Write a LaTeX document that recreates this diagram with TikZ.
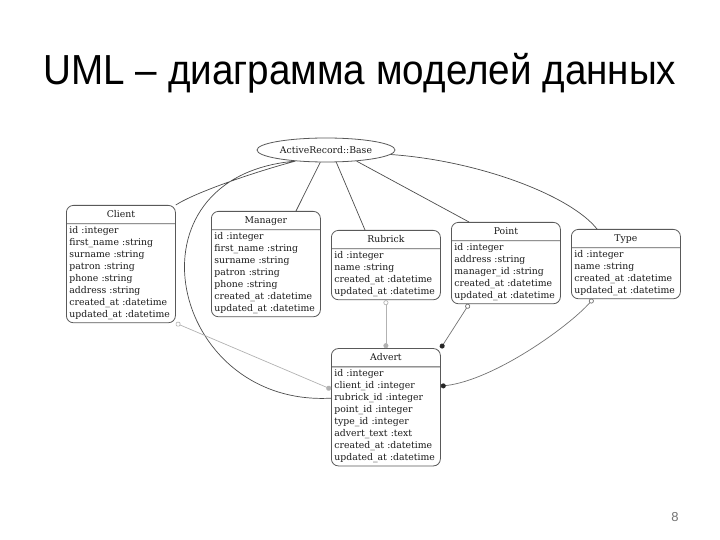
\documentclass[tikz,border=0pt]{standalone}
\usepackage{fontspec}
\setmainfont{Liberation Sans}
\newfontfamily\titlefont[FakeStretch=0.92]{Liberation Sans}
\newfontfamily\erdfont{DejaVu Serif}
\usetikzlibrary{positioning,arrows.meta,shapes.geometric,shapes.multipart}
\tikzset{
  model/.style={draw=black!65, fill=white, line width=0.8pt, rounded corners=7pt,
    rectangle split, rectangle split parts=2, anchor=north west,
    text width=103pt, inner xsep=3pt, inner ysep=2.5pt, align=left,
    font=\erdfont\fontsize{9.3}{12}\selectfont, text=black!90},
  baseclass/.style={draw=black!65, ellipse, line width=0.8pt,
    minimum width=138pt, minimum height=24pt, inner sep=0pt,
    font=\erdfont\fontsize{9.3}{10}\selectfont, text=black!90},
  link/.style={draw=black!70, line width=0.7pt},
  fk/.style={line width=0.7pt, {Circle[open,length=5pt]}-{Circle[length=5pt]}},
}
\newcommand{\head}[1]{\rule[-3.5pt]{0pt}{12.5pt}\hfill#1\hfill\null}

\begin{document}
\begin{tikzpicture}[x=1pt,y=1pt]
\useasboundingbox (0,0) rectangle (720,-540);

\node[anchor=base, font=\titlefont\fontsize{42}{42}\selectfont] (title) at (360,-85)
  {UML – диаграмма моделей данных};

\node[baseclass] (base) at (326,-150) {ActiveRecord::Base};

\node[model] (client) at (66,-205) {\head{Client}\nodepart{two}id :integer\\first\_name :string\\surname :string\\patron :string\\phone :string\\address :string\\created\_at :datetime\\updated\_at :datetime};
\node[model] (manager) at (211,-211) {\head{Manager}\nodepart{two}id :integer\\first\_name :string\\surname :string\\patron :string\\phone :string\\created\_at :datetime\\updated\_at :datetime};
\node[model] (rubrick) at (331,-230) {\head{Rubrick}\nodepart{two}id :integer\\name :string\\created\_at :datetime\\updated\_at :datetime};
\node[model] (point) at (451,-222) {\head{Point}\nodepart{two}id :integer\\address :string\\manager\_id :string\\created\_at :datetime\\updated\_at :datetime};
\node[model] (type) at (571,-229) {\head{Type}\nodepart{two}id :integer\\name :string\\created\_at :datetime\\updated\_at :datetime};
\node[model, below=48pt of rubrick] (advert) {\head{Advert}\nodepart{two}id :integer\\client\_id :integer\\rubrick\_id :integer\\point\_id :integer\\type\_id :integer\\advert\_text :text\\created\_at :datetime\\updated\_at :datetime};

% inheritance
\path[link]
  (base.200) .. controls +(-38,-10) and +(20,13) .. (client.north east)
  (base.200) .. controls +(-176,-15) and +(-162,-9) .. ([yshift=-50pt]advert.north west)
  (base.356) .. controls +(87,-6) and +(-27,34) .. ([xshift=26pt]type.north west);
\path[link]
  (base.245) edge ([xshift=85pt]manager.north west)
  (base.310) edge ([xshift=34pt]rubrick.north west)
  (base.340) edge ([xshift=18pt]point.north west);

% foreign keys
\draw[fk, draw=black!30] (client.south east) -- ([yshift=-41pt]advert.north west);
\draw[fk, draw=black!30] (rubrick.south) -- (advert.north);
\draw[fk, draw=black!55, {Circle[open,length=5pt]}-{Circle[length=5pt,color=black!85]}]
  ([xshift=18pt]point.south west) -- (advert.north east);
\draw[fk, draw=black!55, {Circle[open,length=5pt]}-{Circle[length=5pt,color=black!85]}]
  ([xshift=22pt]type.south west) .. controls +(-25,-28) and +(53,6) .. ([yshift=-38pt]advert.north east);

\node[font=\fontsize{13}{13}\selectfont, text=black!55] (pagenum) at (675,-517) {8};
\end{tikzpicture}
\end{document}
